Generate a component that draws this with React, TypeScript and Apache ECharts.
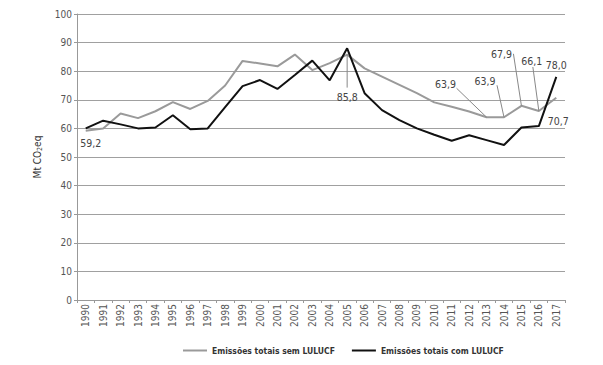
import React, { useEffect, useRef } from "react";
import * as echarts from "echarts";

const years = [
  "1990", "1991", "1992", "1993", "1994", "1995", "1996", "1997", "1998", "1999",
  "2000", "2001", "2002", "2003", "2004", "2005", "2006", "2007", "2008", "2009",
  "2010", "2011", "2012", "2013", "2014", "2015", "2016", "2017",
];

const semLULUCF = [
  59.2, 60.0, 65.2, 63.6, 66.0, 69.2, 66.8, 69.6, 75.0, 83.6,
  82.7, 81.7, 85.8, 80.4, 82.8, 85.8, 81.0, 78.1, 75.2, 72.3,
  69.1, 67.6, 65.9, 63.9, 63.9, 67.9, 66.1, 70.7,
];

const comLULUCF = [
  60.0, 62.7, 61.4, 60.0, 60.3, 64.6, 59.7, 60.0, 67.4, 74.8,
  76.9, 73.8, 78.7, 83.7, 76.8, 88.0, 72.3, 66.4, 62.9, 60.0,
  57.8, 55.7, 57.6, 55.9, 54.2, 60.3, 60.8, 78.0,
];

const seriesNames = ["Emissões totais sem LULUCF", "Emissões totais com LULUCF"];
const yTicks = { min: 0, max: 100, interval: 10 };

// annotated points: series index, year index
const annotated = [
  { s: 0, i: 0 },
  { s: 0, i: 15 },
  { s: 0, i: 23 },
  { s: 0, i: 24 },
  { s: 0, i: 25 },
  { s: 0, i: 26 },
  { s: 1, i: 27 },
  { s: 0, i: 27 },
];

// label placement relative to point (pixels), and optional leader start relative to label
const placement = [
  { dx: 5, dy: 12, lead: null },
  { dx: 0, dy: 42, lead: [0, -9] },
  { dx: -41, dy: -33, lead: [11, 4] },
  { dx: -19, dy: -36, lead: [12, 4] },
  { dx: -20, dy: -52, lead: [12, 0] },
  { dx: -7, dy: -50, lead: [1, 6] },
  { dx: 0, dy: -12, lead: null },
  { dx: 2, dy: 23, lead: null },
];

const FONT = '"Liberation Sans Narrow", "DejaVu Sans Condensed", "Liberation Sans", sans-serif';

const fmt = (v: number) => v.toFixed(1).replace(".", ",");

export default function App() {
  const ref = useRef<HTMLDivElement>(null);

  useEffect(() => {
    document.body.style.margin = "0";
    if (!ref.current) return;
    const chart = echarts.init(ref.current, null, { renderer: "svg" });
    const seriesData = [semLULUCF, comLULUCF];
    chart.setOption({
      animation: false,
      backgroundColor: "#ffffff",
      grid: { left: 77, right: 38, top: 14, bottom: 65, containLabel: false },
      legend: {
        data: [
          { name: seriesNames[0], icon: "rect", itemStyle: { color: "#9a9a9a" } },
          { name: seriesNames[1], icon: "rect", itemStyle: { color: "#111111" } },
        ],
        left: 178,
        top: 341,
        itemWidth: 24,
        itemHeight: 2,
        itemGap: 17,
        textStyle: { fontFamily: FONT, fontSize: 8.5, fontWeight: "bold", color: "#333" },
      },
      xAxis: {
        type: "category",
        data: years,
        boundaryGap: true,
        axisLine: { show: true, lineStyle: { color: "#999", width: 1 } },
        axisTick: { show: true, length: 3, lineStyle: { color: "#999" } },
        axisLabel: {
          rotate: 90,
          interval: 0,
          margin: 4,
          fontFamily: FONT,
          fontSize: 10,
          color: "#555",
        },
      },
      yAxis: {
        type: "value",
        min: yTicks.min,
        max: yTicks.max,
        interval: yTicks.interval,
        name: "{a|Mt CO}{b|2}{a|eq}",
        nameLocation: "middle",
        nameRotate: 90,
        nameGap: 30,
        nameTextStyle: {
          fontFamily: FONT,
          color: "#333",
          rich: {
            a: { fontSize: 10, fontFamily: FONT, color: "#333" },
            b: { fontSize: 7, fontFamily: FONT, color: "#333", padding: [6, 0, 0, 0] },
          },
        },
        axisLine: { show: true, lineStyle: { color: "#999", width: 1 } },
        axisTick: { show: true, length: 3, lineStyle: { color: "#999" } },
        axisLabel: { fontFamily: FONT, fontSize: 10, color: "#555", margin: 5 },
        splitLine: { show: true, lineStyle: { color: "#a0a0a0", width: 1 } },
      },
      series: [
        {
          name: seriesNames[0],
          type: "line",
          data: semLULUCF,
          showSymbol: false,
          symbol: "none",
          lineStyle: { color: "#9a9a9a", width: 2 },
          itemStyle: { color: "#9a9a9a" },
          z: 2,
        },
        {
          name: seriesNames[1],
          type: "line",
          data: comLULUCF,
          showSymbol: false,
          symbol: "none",
          lineStyle: { color: "#111111", width: 2 },
          itemStyle: { color: "#111111" },
          z: 3,
        },
      ],
    });

    const elems: any[] = [];
    annotated.forEach((a, k) => {
      const v = seriesData[a.s][a.i];
      const p = chart.convertToPixel({ seriesIndex: a.s }, [a.i, v]) as number[];
      const pl = placement[k];
      const lx = p[0] + pl.dx;
      const ly = p[1] + pl.dy;
      if (pl.lead) {
        elems.push({
          type: "line",
          shape: { x1: lx + pl.lead[0], y1: ly + pl.lead[1], x2: p[0], y2: p[1] },
          style: { stroke: "#888", lineWidth: 1 },
          z: 10,
        });
      }
      elems.push({
        type: "text",
        x: lx,
        y: ly,
        style: {
          text: fmt(v),
          fontFamily: FONT,
          fontSize: 10.5,
          fill: "#444",
          align: "center",
          verticalAlign: "middle",
        },
        z: 11,
      });
    });
    chart.setOption({ graphic: elems });

    return () => chart.dispose();
  }, []);

  return <div ref={ref} style={{ width: 603, height: 365 }} />;
}
